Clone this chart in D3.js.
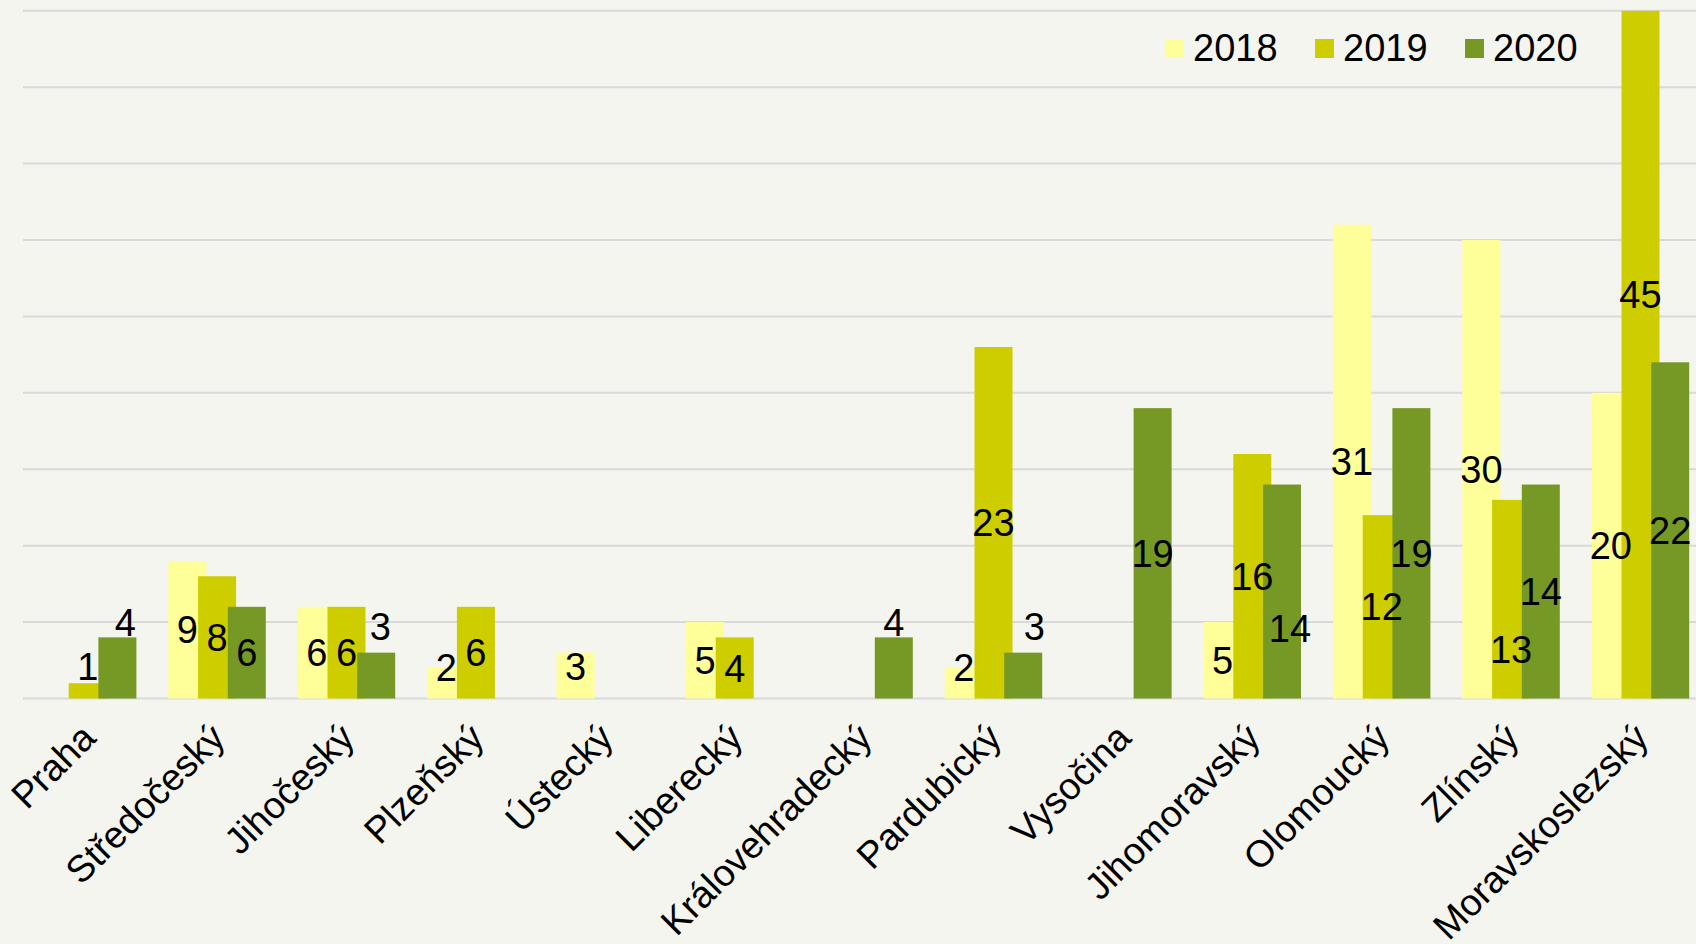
<!DOCTYPE html>
<html>
<head>
<meta charset="utf-8">
<script src="https://cdn.jsdelivr.net/npm/d3@7"></script>
<style>
  body { margin: 0; background: #f4f5ee; }
  svg { display: block; }
</style>
</head>
<body>
<div id="chart"></div>
<script>
const regions = [
  'Praha', 'Středočeský', 'Jihočeský', 'Plzeňský', 'Ústecký', 'Liberecký',
  'Královehradecký', 'Pardubický', 'Vysočina', 'Jihomoravský', 'Olomoucký',
  'Zlínský', 'Moravskoslezský',
]
const years = ['2018', '2019', '2020']
const values2018 = [null, 9, 6, 2, 3, 5, null, 2, null, 5, 31, 30, 20]
const values2019 = [1, 8, 6, 6, null, 4, null, 23, null, 16, 12, 13, 45]
const values2020 = [4, 6, 3, null, null, null, 4, 3, 19, 14, 19, 14, 22]
const yTicks = [0, 5, 10, 15, 20, 25, 30, 35, 40, 45]

const seriesColors = { 2018: '#ffff99', 2019: '#cecd00', 2020: '#769825' }

// labels that were dragged off-centre in the original (pixels)
const labelNudge = {
  'Praha|2019': [0, -25],
  'Praha|2020': [8, -46],
  'Jihočeský|2020': [4, -49],
  'Plzeňský|2018': [0, -16],
  'Ústecký|2018': [0, -9],
  'Královehradecký|2020': [0, -46],
  'Pardubický|2018': [0, -16],
  'Pardubický|2020': [11, -49],
  'Jihomoravský|2020': [8, 37],
  'Zlínský|2019': [0, 50],
  'Moravskoslezský|2019': [0, -60],
}

const width = 1696
const height = 944
const fontFamily = '"Liberation Sans", Arial, sans-serif'

const series = [values2018, values2019, values2020].map((vals, i) => ({
  year: years[i],
  values: vals.map((v, j) => ({ region: regions[j], year: years[i], value: v })),
}))

const svg = d3
  .select('#chart')
  .append('svg')
  .attr('width', width)
  .attr('height', height)
  .style('background', '#f4f5ee')
  .style('font-family', fontFamily)

const plotLeft = 23
const step = 129.4
const x = d3
  .scaleBand()
  .domain(regions)
  .range([plotLeft, plotLeft + step * regions.length])

const barWidth = 38
const xYear = d3.scalePoint().domain(years).range([16, 16 + 2 * 29.7])

const y = d3.scaleLinear().domain([0, 45]).range([698.5, 10.8])

// gridlines
svg
  .append('g')
  .selectAll('line')
  .data(yTicks)
  .join('line')
  .attr('x1', plotLeft)
  .attr('x2', width)
  .attr('y1', d => y(d))
  .attr('y2', d => y(d))
  .attr('stroke', '#d9d9d9')
  .attr('stroke-width', 2)

// bars
const barGroups = svg
  .append('g')
  .selectAll('g')
  .data(series)
  .join('g')
  .attr('fill', d => seriesColors[d.year])

barGroups
  .selectAll('rect')
  .data(d => d.values.filter(v => v.value != null))
  .join('rect')
  .attr('x', d => x(d.region) + xYear(d.year))
  .attr('width', barWidth)
  .attr('y', d => y(d.value))
  .attr('height', d => y(0) - y(d.value))

// data labels
const allValues = series.flatMap(s => s.values).filter(v => v.value != null)
svg
  .append('g')
  .selectAll('text')
  .data(allValues)
  .join('text')
  .attr('x', d => {
    const n = labelNudge[`${d.region}|${d.year}`] || [0, 0]
    return x(d.region) + xYear(d.year) + barWidth / 2 + n[0]
  })
  .attr('y', d => {
    const n = labelNudge[`${d.region}|${d.year}`] || [0, 0]
    return (y(d.value) + y(0)) / 2 + n[1]
  })
  .attr('dy', '0.36em')
  .attr('text-anchor', 'middle')
  .attr('font-size', 38)
  .attr('fill', '#000')
  .text(d => d.value)

// category labels
svg
  .append('g')
  .selectAll('text')
  .data(regions)
  .join('text')
  .attr(
    'transform',
    d => `translate(${x(d) + x.bandwidth() / 2 + 10}, 740) rotate(-45)`,
  )
  .attr('text-anchor', 'end')
  .attr('font-size', 37.5)
  .attr('fill', '#000')
  .text(d => d)

// legend
const legend = svg
  .append('g')
  .selectAll('g')
  .data(years)
  .join('g')
  .attr('transform', (d, i) => `translate(${1165 + i * 150}, 0)`)

legend
  .append('rect')
  .attr('y', 39)
  .attr('width', 19)
  .attr('height', 19)
  .attr('fill', d => seriesColors[d])

legend
  .append('text')
  .attr('x', 28)
  .attr('y', 60.5)
  .attr('font-size', 38)
  .attr('fill', '#000')
  .text(d => d)
</script>
</body>
</html>
